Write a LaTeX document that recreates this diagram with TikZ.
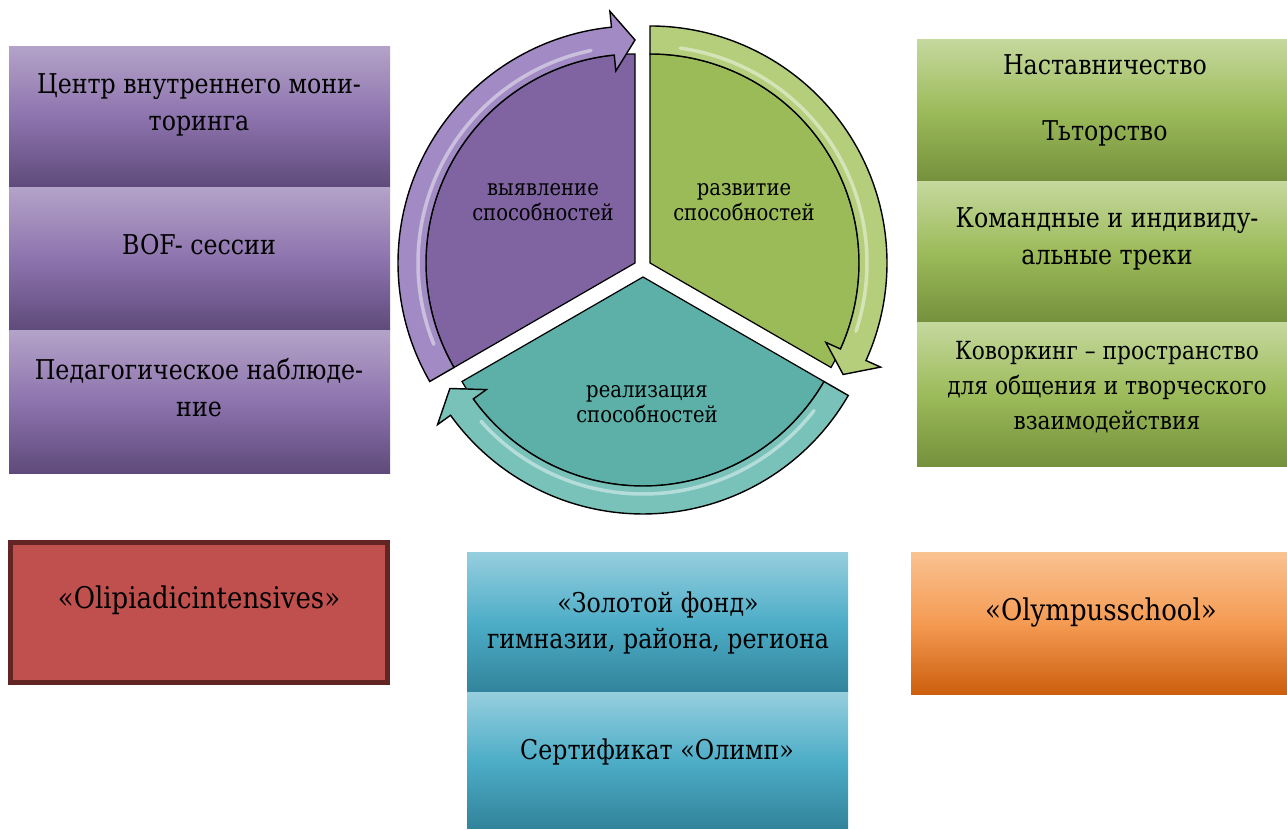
\documentclass[tikz,border=0pt]{standalone}
\usepackage{fontspec}
\setmainfont{DejaVu Serif}[FakeStretch=0.87]
\usepackage{tikz}
\usetikzlibrary{positioning}
\usepackage{xcolor}

\definecolor{purpTop}{HTML}{B3A2C8}
\definecolor{purpMid}{HTML}{8D73AD}
\definecolor{purpBot}{HTML}{5E4A7A}
\definecolor{greenTop}{HTML}{C5D89D}
\definecolor{greenMid}{HTML}{9CBB5A}
\definecolor{greenBot}{HTML}{74903B}
\definecolor{tealTop}{HTML}{95CEDE}
\definecolor{tealMid}{HTML}{4DADC7}
\definecolor{tealBot}{HTML}{31839A}
\definecolor{orTop}{HTML}{FAC291}
\definecolor{orMid}{HTML}{F49A52}
\definecolor{orBot}{HTML}{CB5E0C}
\definecolor{redFill}{HTML}{C0504D}
\definecolor{redEdge}{HTML}{632523}
\definecolor{wedgeP}{HTML}{8064A2}
\definecolor{wedgeG}{HTML}{9BBB59}
\definecolor{wedgeT}{HTML}{5DB0A7}
\definecolor{arrP}{HTML}{A28BC4}
\definecolor{arrG}{HTML}{B4CE7C}
\definecolor{arrT}{HTML}{78C2BA}

\tikzset{
  boxtext/.style={font=\fontsize{15.5}{21}\selectfont, align=center, inner sep=0pt},
  latintext/.style={font=\fontsize{17}{21}\selectfont, align=center, inner sep=0pt},
  smalltext/.style={font=\fontsize{14.2}{20}\selectfont, align=center, inner sep=0pt},
  cyctext/.style={font=\fontsize{12.8}{14.2}\selectfont, align=center, inner sep=0pt},
  purplebox/.style={top color=purpTop, bottom color=purpBot, middle color=purpMid},
  greenbox/.style={top color=greenTop, bottom color=greenBot, middle color=greenMid},
  tealbox/.style={top color=tealTop, bottom color=tealBot, middle color=tealMid},
  orangebox/.style={top color=orTop, bottom color=orBot, middle color=orMid},
  wedge/.style={draw=black, line width=0.7pt},
  cycarrow/.style={draw=black, line width=0.8pt, line join=miter},
  shine/.style={white, opacity=0.45, line width=2pt, line cap=round}
}

\begin{document}
\begin{tikzpicture}[x=0.02cm, y=0.02cm]
\useasboundingbox (0,0) rectangle (1287,830);

% left column
\foreach \top/\bot in {783/642, 642/499, 499/356} {
    \shade[purplebox] (9,\top) rectangle (390,\bot);
}
% right column
\foreach \top/\bot in {790/648, 648/507, 507/363} {
    \shade[greenbox] (917,\top) rectangle (1287,\bot);
}
% bottom row
\draw[draw=redEdge, line width=2.8pt, fill=redFill] (10.5,287.5) rectangle (387.5,147.5);
\shade[tealbox] (467,277) rectangle (848,137);
\shade[tealbox] (467,137) rectangle (848,1);
\shade[orangebox] (911,277) rectangle (1287,135);

% cycle
\coordinate (cP) at (635,567);
\coordinate (cG) at (650,567);
\coordinate (cT) at (643,553);
\foreach \c/\s/\col in {cP/90/wedgeP, cG/-30/wedgeG, cT/210/wedgeT} {
    \begin{scope}[shift={(\c)}]
    \draw[wedge, fill=\col] (0,0) -- ({\s}:209) arc[start angle=\s, end angle=\s+120, radius=209] -- cycle;
    \end{scope}
}
\foreach \c/\s/\col in {cP/210/arrP, cG/90/arrG, cT/-30/arrT} {
    \pgfmathsetmacro\ed{\s-120}
    \pgfmathsetmacro\hd{\s-120+5.7}
    \begin{scope}[shift={(\c)}]
    \draw[cycarrow, fill=\col] ({\s}:209) arc[start angle=\s, end angle=\hd, radius=209]
        -- ({\hd}:193) -- ({\ed}:223) -- ({\hd}:253) -- ({\hd}:237)
        arc[start angle=\hd, end angle=\s, radius=237] -- cycle;
    \draw[shine] ({\s-8}:217) arc[start angle=\s-8, end angle=\hd+6, radius=217];
    \end{scope}
}

% texts
\node[boxtext] (monitor) at (199,725) {Центр внутреннего мони-\\торинга};
\node[boxtext] (bof) at (199,585) {BOF- сессии};
\node[boxtext] (nabl) at (199,442) {Педагогическое наблюде-\\ние};
\node[boxtext] (nastav) at (1105,730) {Наставничество\\[16.5pt]Тьторство};
\node[boxtext] (treki) at (1107,591) {Командные и индивиду-\\альные треки};
\node[smalltext] (cowork) at (1107,443) {Коворкинг – пространство\\для общения и творческого\\взаимодействия};
\node[latintext] (olip) at (199,230) {«Olipiadicintensives»};
\node[boxtext] (fond) at (658,207) {«Золотой фонд»\\гимназии, района, региона};
\node[boxtext] (sert) at (657,78) {Сертификат «Олимп»};
\node[latintext] (olymp) at (1101,218) {«Olympusschool»};
\node[cyctext] (vyyav) at (543,628) {выявление\\способностей};
\node[cyctext] (razv) at (744,628) {развитие\\способностей};
\node[cyctext] (real) at (647,426) {реализация\\способностей};
\end{tikzpicture}
\end{document}
